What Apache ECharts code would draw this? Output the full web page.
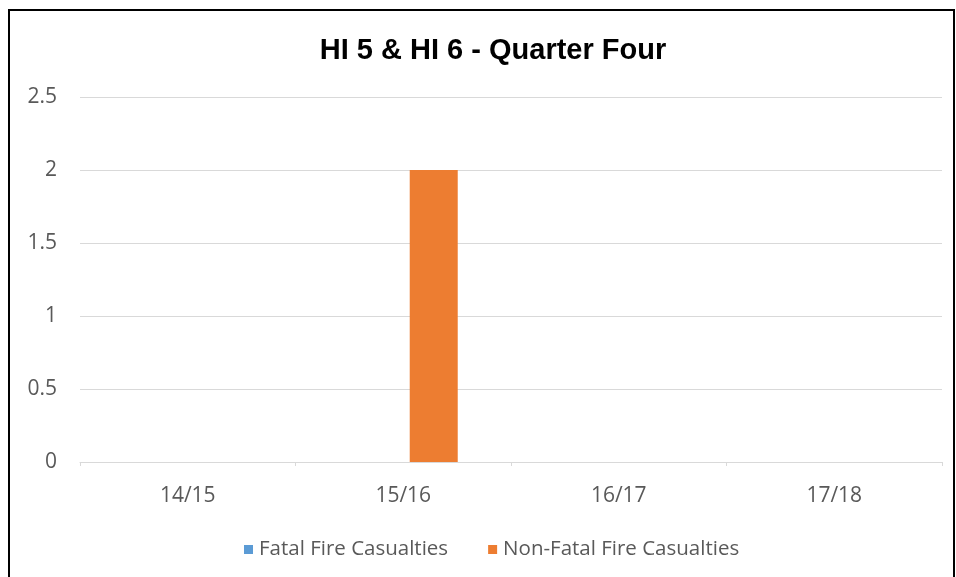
<!DOCTYPE html>
<html>
<head>
<meta charset="utf-8">
<script src="https://cdn.jsdelivr.net/npm/echarts@6/dist/echarts.min.js"></script>
<style>
html,body{margin:0;padding:0;background:#fff;}
#chart{width:956px;height:577px;}
</style>
</head>
<body>
<div id="chart"></div>
<script>
var categories = ['14/15', '15/16', '16/17', '17/18'];
var fatal = [0, 0, 0, 0];
var nonFatal = [0, 2, 0, 0];
var yTicks = [0, 0.5, 1, 1.5, 2, 2.5];

var chart = echarts.init(document.getElementById('chart'));
chart.setOption({
  backgroundColor: '#fff',
  animation: false,
  graphic: [{
    type: 'rect',
    shape: {x: 9, y: 10, width: 945, height: 580},
    style: {fill: 'none', stroke: '#000', lineWidth: 2},
    silent: true
  }],
  title: {
    text: 'HI 5 & HI 6 - Quarter Four',
    left: 488,
    textAlign: 'center',
    top: 31,
    textStyle: {fontFamily: 'Liberation Sans', fontWeight: 'bold', fontSize: 29, color: '#000'}
  },
  legend: {
    top: 534,
    left: 239,
    itemWidth: 9,
    itemHeight: 9,
    itemGap: 40,
    icon: 'rect',
    textStyle: {fontFamily: 'Open Sans', fontSize: 20.5, color: '#595959', padding: [0, 0, 0, 1]},
    data: ['Fatal Fire Casualties', 'Non-Fatal Fire Casualties']
  },
  grid: {left: 80, right: 14, top: 97, bottom: 115},
  xAxis: {
    type: 'category',
    data: categories,
    axisLine: {lineStyle: {color: '#D9D9D9'}},
    axisTick: {show: true, length: 4, lineStyle: {color: '#D9D9D9'}},
    axisLabel: {fontFamily: 'Open Sans', fontSize: 21, color: '#595959', margin: 24}
  },
  yAxis: {
    type: 'value',
    min: yTicks[0],
    max: yTicks[yTicks.length - 1],
    interval: 0.5,
    axisLine: {show: false},
    axisTick: {show: false},
    axisLabel: {fontFamily: 'Open Sans', fontSize: 21, color: '#595959', margin: 23},
    splitLine: {lineStyle: {color: '#D9D9D9'}}
  },
  series: [
    {name: 'Fatal Fire Casualties', type: 'bar', data: fatal, barWidth: 48, barGap: '27%', itemStyle: {color: '#5B9BD5'}},
    {name: 'Non-Fatal Fire Casualties', type: 'bar', data: nonFatal, barWidth: 48, barGap: '27%', itemStyle: {color: '#ED7D31'}}
  ]
});
</script>
</body>
</html>
